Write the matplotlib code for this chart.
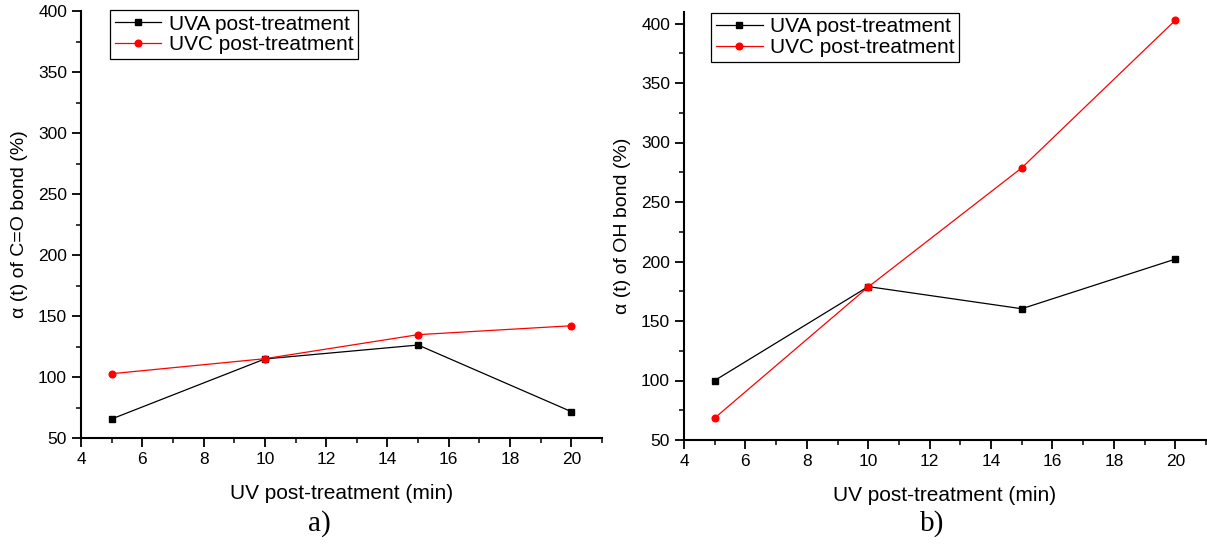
import numpy as np
import matplotlib.pyplot as plt
from matplotlib.ticker import MultipleLocator

plt.rcParams['font.family'] = ['Liberation Sans', 'DejaVu Sans']

# UV post-treatment time (min)
time_min = [5, 10, 15, 20]

# panel a) alpha(t) of C=O bond (%)
co_uva = [65.6, 114.8, 126.2, 71.6]
co_uvc = [102.7, 115.0, 134.7, 142.0]

# panel b) alpha(t) of OH bond (%)
oh_uva = [100.0, 178.9, 160.3, 202.0]
oh_uvc = [68.5, 178.6, 278.7, 402.7]

W, H = 1207, 544
fig = plt.figure(figsize=(W / 100, H / 100), dpi=100)
ax_a = fig.add_axes([81 / W, 1 - 438 / H, 521 / W, 427 / H])
ax_b = fig.add_axes([684 / W, 1 - 440 / H, 522 / W, 428.4 / H])


def draw_panel(ax, uva, uvc, ylabel, ylim, leg_anchor):
    ax.plot(time_min, uva, '-s', color='black', lw=0.9, ms=4.5,
            label='UVA post-treatment')
    ax.plot(time_min, uvc, '-o', color='red', lw=0.9, ms=4.8,
            label='UVC post-treatment')
    ax.set_xlim(4, 21)
    ax.set_ylim(*ylim)
    ax.xaxis.set_major_locator(MultipleLocator(2))
    ax.xaxis.set_minor_locator(MultipleLocator(1))
    ax.yaxis.set_major_locator(MultipleLocator(50))
    ax.yaxis.set_minor_locator(MultipleLocator(25))
    for side in ['top', 'right']:
        ax.spines[side].set_visible(False)
    for side in ['left', 'bottom']:
        ax.spines[side].set_linewidth(1.5)
    ax.tick_params(which='major', direction='out', length=6.5, width=1.3,
                   labelsize=12.5, pad=3.5)
    ax.tick_params(which='minor', direction='out', length=3.5, width=1.1)
    ax.set_xlabel('UV post-treatment (min)', fontsize=15, labelpad=12)
    ax.set_ylabel(ylabel, fontsize=14, labelpad=7)
    leg = ax.legend(loc='upper left', bbox_to_anchor=leg_anchor,
                    borderaxespad=0, fancybox=False, edgecolor='black',
                    framealpha=1, fontsize=15, handlelength=2.25,
                    borderpad=0.22, labelspacing=0.08, handletextpad=0.35)
    leg.get_frame().set_linewidth(0.9)


draw_panel(ax_a, co_uva, co_uvc, 'α (t) of C=O bond (%)', (50, 400),
           (0.0557, 1.002))
draw_panel(ax_b, oh_uva, oh_uvc, 'α (t) of OH bond (%)', (50, 410),
           (0.052, 0.997))

fig.text(319 / W, 1 - 524 / H, 'a)', ha='center', va='center',
         fontsize=21, family='Liberation Serif')
fig.text(932 / W, 1 - 524 / H, 'b)', ha='center', va='center',
         fontsize=21, family='Liberation Serif')

fig.savefig('out.png', dpi=100)
